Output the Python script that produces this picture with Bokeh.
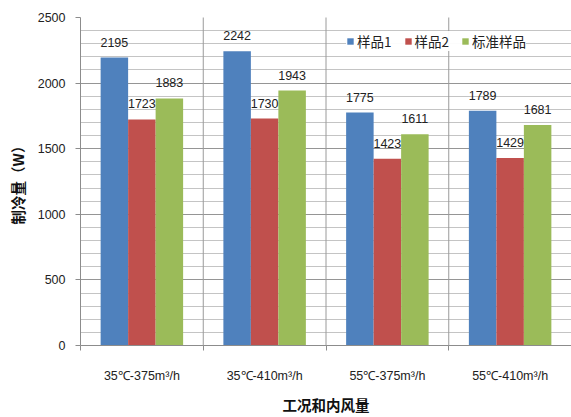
from bokeh.plotting import figure
from bokeh.models import (ColumnDataSource, FixedTicker, LabelSet, Legend,
                          LegendItem, Range1d)
from bokeh.core.properties import value
from bokeh.embed import file_html
from bokeh.resources import INLINE

# Operating condition / indoor airflow categories
categories = ["35℃-375m³/h", "35℃-410m³/h", "55℃-375m³/h", "55℃-410m³/h"]
series_names = ["样品1", "样品2", "标准样品"]

# Cooling capacity (W) per series
sample1 = [2195, 2242, 1775, 1789]
sample2 = [1723, 1730, 1423, 1429]
standard = [1883, 1943, 1611, 1681]

colors = ["#4F81BD", "#C0504D", "#9BBB59"]
y_ticks = [0, 500, 1000, 1500, 2000, 2500]
y_minor = [v for v in range(100, 2500, 100) if v % 500]

series = [sample1, sample2, standard]
n = len(categories)
bar_w = 0.224
offsets = [-bar_w, 0.0, bar_w]

p = figure(width=571, height=417,
           x_range=Range1d(0, n), y_range=Range1d(0, 2500),
           output_backend="svg", toolbar_location=None,
           min_border_left=80, min_border_right=0,
           min_border_top=17, min_border_bottom=72)
p.outline_line_color = None
p.background_fill_color = "white"
p.border_fill_color = "white"

# horizontal grid: darker every 500, light every 100
p.xgrid.visible = False
p.ygrid.ticker = FixedTicker(ticks=y_ticks, minor_ticks=y_minor)
p.ygrid.grid_line_color = "#959595"
p.ygrid.minor_grid_line_color = "#C4C4C4"

# y axis
p.yaxis.ticker = FixedTicker(ticks=y_ticks, minor_ticks=[])
p.yaxis.axis_line_color = "#8C8C8C"
p.yaxis.major_tick_line_color = "#8C8C8C"
p.yaxis.major_tick_out = 5
p.yaxis.major_tick_in = 0
p.yaxis.minor_tick_line_color = None
p.yaxis.major_label_standoff = 10
p.yaxis.major_label_text_font = "Liberation Sans"
p.yaxis.major_label_text_font_size = "12.5px"
p.yaxis.major_label_text_color = "#222222"
p.yaxis.axis_label = "制冷量（W）"
p.yaxis.axis_label_text_font = "Noto Sans CJK SC"
p.yaxis.axis_label_text_font_style = "bold"
p.yaxis.axis_label_text_font_size = "14.5px"
p.yaxis.axis_label_text_color = "#111111"
p.yaxis.axis_label_standoff = 7

# x axis: labels at group centres, ticks at group boundaries
centers = [i + 0.5 for i in range(n)]
p.xaxis.ticker = FixedTicker(ticks=centers, minor_ticks=list(range(n + 1)))
p.xaxis.major_label_overrides = {c: lab for c, lab in zip(centers, categories)}
p.xaxis.axis_line_color = "#8C8C8C"
p.xaxis.major_tick_line_color = None
p.xaxis.major_tick_out = 0
p.xaxis.major_tick_in = 0
p.xaxis.minor_tick_line_color = "#8C8C8C"
p.xaxis.minor_tick_out = 5
p.xaxis.minor_tick_in = 0
p.xaxis.major_label_standoff = 18
p.xaxis.major_label_text_font = "Liberation Sans"
p.xaxis.major_label_text_font_size = "12.5px"
p.xaxis.major_label_text_color = "#222222"
p.xaxis.axis_label = "工况和内风量"
p.xaxis.axis_label_text_font = "Noto Sans CJK SC"
p.xaxis.axis_label_text_font_style = "bold"
p.xaxis.axis_label_text_font_size = "14.5px"
p.xaxis.axis_label_text_color = "#111111"
p.xaxis.axis_label_standoff = 8

# bars and value labels
renderers = []
for vals, off, col in zip(series, offsets, colors):
    xs = [c + off for c in centers]
    src = ColumnDataSource(dict(x=xs, top=vals, text=[str(v) for v in vals]))
    r = p.vbar(x="x", top="top", width=bar_w, source=src,
               fill_color=col, line_color=None)
    renderers.append(r)
    p.add_layout(LabelSet(x="x", y="top", text="text", source=src,
                          text_align="center", text_baseline="alphabetic",
                          y_offset=11, text_font=value("Liberation Sans"),
                          text_font_size=value("12.5px"),
                          text_color=value("#222222")))

# vertical separators between groups, drawn above the legend box
p.segment(x0=[1, 2, 3], y0=[0, 0, 0], x1=[1, 2, 3], y1=[2500, 2500, 2500],
          line_color="#9A9A9A", line_width=1, level="overlay")

legend = Legend(
    items=[LegendItem(label=nm, renderers=[r]) for nm, r in zip(series_names, renderers)],
    orientation="horizontal", location=(266, 294),
    border_line_color=None, background_fill_color="white",
    label_text_font="Noto Sans CJK SC", label_text_font_size="13.5px",
    label_text_color="#222222", label_height=14,
    glyph_width=8, glyph_height=8, label_standoff=3,
    spacing=12, padding=2, margin=0)
p.add_layout(legend)

open("out.html", "w").write(file_html(p, INLINE))
